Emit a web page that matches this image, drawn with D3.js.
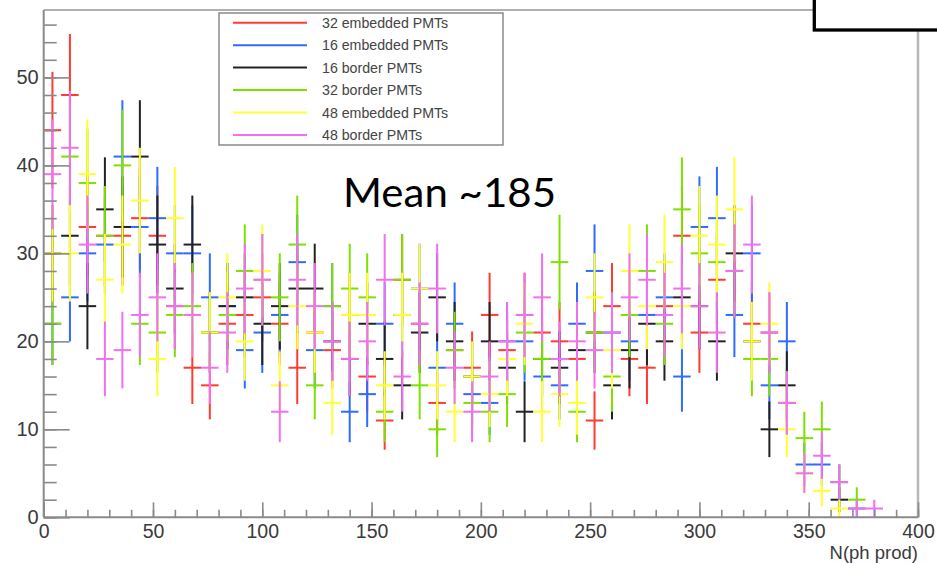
<!DOCTYPE html>
<html><head><meta charset="utf-8">
<script src="https://cdn.jsdelivr.net/npm/d3@7"></script>
<style>body{margin:0;background:#fff}svg{display:block}</style></head>
<body>
<svg id="c" width="937" height="563"></svg>
<script>
// ---- data ----
const binCenters = [4,12,20,28,36,44,52,60,68,76,84,92,100,108,116,124,132,140,148,156,164,172,180,188,196,204,212,220,228,236,244,252,260,268,276,284,292,300,308,316,324,332,340,348,356,364,372,380,388,396];
const binWidth = 8;
const seriesNames = ["32 embedded PMTs","16 embedded PMTs","16 border PMTs","32 border PMTs","48 embedded PMTs","48 border PMTs"];
const seriesColors = ["#ff3b30","#2f6bff","#222222","#7ee000","#ffff33","#f070f0"];
const emb32 = [44,48,33,32,32,34,32,24,17,15,22,23,25,22,17,21,19,23,16,11,27,22,13,19,17,23,19,23,21,20,18,11,24,18,17,24,32,21,27,28,22,21,13,0,0,0,0,0,0,0];
const emb16 = [22,25,30,31,41,33,34,30,30,25,24,19,21,23,29,19,24,12,14,22,23,26,17,22,14,13,20,20,16,15,22,28,21,20,23,25,16,33,34,23,30,15,20,6,6,4,1,0,0,0];
const bor16 = [30,32,24,35,33,41,31,26,31,21,24,25,22,24,26,26,20,18,22,18,15,21,25,20,16,20,17,12,18,17,19,21,15,19,22,20,25,24,20,30,20,10,15,0,0,2,0,0,0,0];
const bor32 = [22,41,38,32,40,22,21,23,24,21,23,28,27,25,31,15,24,26,25,12,27,15,10,19,13,12,14,21,18,29,12,21,16,23,28,22,35,30,29,28,18,18,13,9,10,4,2,0,0,0];
const emb48 = [30,30,39,27,31,36,18,34,23,21,25,20,28,15,24,21,13,23,23,15,23,26,15,12,16,14,18,22,12,14,13,25,19,28,24,29,24,32,31,35,20,22,10,5,3,1,0,0,0,0];
const bor48 = [39,42,31,18,19,23,25,24,23,17,21,26,27,12,27,24,20,18,20,27,16,22,26,17,12,16,20,23,25,18,20,19,21,25,27,23,26,24,21,28,31,21,13,5,7,4,1,1,0,0];
const seriesValues = [emb32, emb16, bor16, bor32, emb48, bor48];
const xTickLabels = [0,50,100,150,200,250,300,350,400];
const yTickLabels = [0,10,20,30,40,50];
const xTitle = "N(ph prod)";
const annotation = "Mean ~185";

// ---- layout ----
const svg = d3.select("#c");
const X0 = 43.7, X1 = 918, Y0 = 517.3, Y1 = 10;
const x = d3.scaleLinear().domain([0,400]).range([X0,X1]);
const y = d3.scaleLinear().domain([0,57.66]).range([Y0,Y1]);
const axisColor = "#8a8a8a", labelColor = "#3a3a3a";
const font = "'Liberation Sans', Arial, sans-serif";

// frame (top & right)
svg.append("line").attr("x1",X0).attr("x2",X1).attr("y1",Y1).attr("y2",Y1).attr("stroke","#b0b0b0").attr("stroke-width",2);
svg.append("line").attr("x1",X1).attr("x2",X1).attr("y1",Y1).attr("y2",Y0).attr("stroke","#b8b8b8").attr("stroke-width",2.5);

// error bars
const g = svg.append("g");
seriesValues.forEach((vals, si) => {
  const col = seriesColors[si];
  const sg = g.append("g").attr("stroke", col).attr("stroke-width", 2).attr("fill","none");
  vals.forEach((v, i) => {
    if (v <= 0) return;
    const c = binCenters[i], e = Math.sqrt(v);
    sg.append("line").attr("x1", x(c)).attr("x2", x(c)).attr("y1", y(v - e)).attr("y2", y(Math.min(v + e, 57.66)));
    sg.append("line").attr("x1", x(c - binWidth/2)).attr("x2", x(c + binWidth/2)).attr("y1", y(v)).attr("y2", y(v));
  });
});

// axes
const yMinor = d3.range(0, 57, 2);
const xMinor = d3.range(0, 401, 10);
const ga = svg.append("g").attr("transform", `translate(${X0},0)`);
ga.call(d3.axisLeft(y).tickValues(yMinor).tickSize(-13).tickFormat(""));
const gaM = svg.append("g").attr("transform", `translate(${X0},0)`);
gaM.call(d3.axisLeft(y).tickValues(yTickLabels).tickSize(-26).tickPadding(5).tickFormat(d3.format("d")));
const gb = svg.append("g").attr("transform", `translate(0,${Y0})`);
gb.call(d3.axisBottom(x).tickValues(xMinor).tickSize(-7.5).tickFormat(""));
const gbM = svg.append("g").attr("transform", `translate(0,${Y0})`);
gbM.call(d3.axisBottom(x).tickValues(xTickLabels).tickSize(-15).tickPadding(7).tickFormat(d3.format("d")));
[ga,gaM,gb,gbM].forEach(a => {
  a.selectAll("path.domain").attr("stroke", axisColor).attr("stroke-width", 2);
  a.selectAll(".tick line").attr("stroke", axisColor).attr("stroke-width", 1.6);
  a.selectAll("text").attr("fill", labelColor).style("font-family", font).style("font-size","20px");
});
gbM.selectAll("text").style("font-size","19.5px");
gb.select("path.domain").remove(); ga.select("path.domain").remove();
gaM.select("path.domain").attr("d", `M0,${Y0}V${Y1}`);
gbM.select("path.domain").attr("d", `M${X0},0H${X1}`);

// x title
svg.append("text").attr("x", X1).attr("y", 559).attr("text-anchor","end")
  .attr("fill", labelColor).style("font-family", font).style("font-size","18.5px").text(xTitle);

// legend
const L = {x:219, y:13, w:284, h:132};
const lg = svg.append("g");
lg.append("rect").attr("x",L.x).attr("y",L.y).attr("width",L.w).attr("height",L.h)
  .attr("fill","#fff").attr("stroke","#8a8a8a").attr("stroke-width",1.5);
seriesNames.forEach((n, i) => {
  const yy = 22.7 + i*22.46;
  lg.append("line").attr("x1",233).attr("x2",307).attr("y1",yy).attr("y2",yy)
    .attr("stroke", seriesColors[i]).attr("stroke-width",2);
  lg.append("text").attr("x",322).attr("y",yy).attr("dy","0.35em").attr("fill","#444")
    .style("font-family", font).style("font-size","14.2px").text(n);
});

// annotation
svg.append("text").attr("x",343).attr("y",206.7).attr("fill","#000")
  .style("font-family","Lato, 'Open Sans', sans-serif").style("font-size","41.5px")
  .attr("textLength",213).attr("lengthAdjust","spacingAndGlyphs").text(annotation);

// top-right box
svg.append("rect").attr("x",814.3).attr("y",-20).attr("width",200).attr("height",50)
  .attr("fill","#fff").attr("stroke","#000").attr("stroke-width",3.3);
</script>
</body></html>
